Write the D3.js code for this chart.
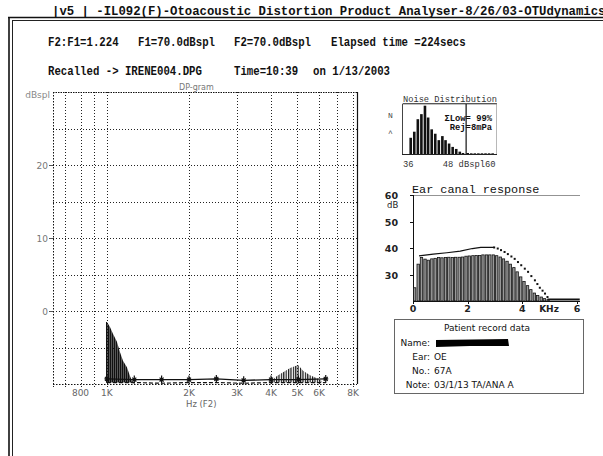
<!DOCTYPE html>
<html><head><meta charset="utf-8">
<script src="https://cdn.jsdelivr.net/npm/d3@7"></script>
<style>body{margin:0;background:#fff} svg{display:block}</style>
</head><body><svg id="c" width="603" height="456"></svg>
<script>
// ---------- header texts ----------
const titleText = "|v5 | -IL092(F)-Otoacoustic Distortion Product Analyser-8/26/03-OTUdynamics";
const headerLine1 = ["F2:F1=1.224", "F1=70.0dBspl", "F2=70.0dBspl", "Elapsed time =224secs"];
const headerLine2 = ["Recalled -> IRENE004.DPG", "Time=10:39", "on 1/13/2003"];

// ---------- DP-gram ----------
const dpTitle = "DP-gram";
const dpYUnit = "dBspl";
const dpXTitle = "Hz (F2)";
const dpTickFreqs = [800, 1000, 2000, 3000, 4000, 5000, 6000, 8000];
const dpTickLabels = ["800", "1K", "2K", "3K", "4K", "5K", "6K", "8K"];
const dpGridFreqs = [700, 800, 900, 1000, 2000, 3000, 4000, 5000, 6000, 7000, 8000];
const dpYTicks = [0, 10, 20];
const dpYGrid = [-5, 0, 5, 10, 15, 20, 25];
// DP response near 1 kHz
const dpLowFreq = [992, 1000, 1026, 1052, 1088, 1116, 1145, 1184, 1215, 1235, 1245];
const dpLowLevel = [-1.5, -1.5, -2.2, -3.1, -4.2, -5.6, -6.8, -7.7, -8.9, -9.6, -9.8];
// DP response near 5 kHz
const dpHighFreq = [3966, 4207, 4430, 4700, 5029, 5243, 5560, 5898, 6146];
const dpHighLevel = [-9.7, -8.9, -8.4, -7.8, -7.4, -8.2, -8.8, -9.2, -9.6];
// noise floor (1/3 octave points)
const nfFreq = [1000, 1260, 1587, 2000, 2520, 3175, 4000, 5040, 6350];
const nfLevel = [-9.3, -9.4, -9.4, -9.4, -9.3, -9.5, -9.4, -9.4, -9.3];
const nfLevel2 = [-9.8, -9.8, -9.9, -9.8, -9.8, -9.9, -9.8, -9.8, -9.8];

// ---------- Noise distribution ----------
const noiseTitle = "Noise Distribution";
const noiseBins = [38.2, 39.1, 40.0, 40.9, 41.8, 42.6, 43.5, 44.4, 45.3, 46.2, 47.0, 47.9, 48.8, 49.7, 50.6, 51.4,
                   52.6, 53.5, 54.4, 55.3, 56.2, 57.1, 58.0, 58.9];
const noiseCounts = [48, 66, 103, 118, 143, 108, 73, 60, 41, 53, 41, 31, 21, 15, 7, 3,
                     3, 2, 2, 2, 2, 2, 2, 2];
const noiseReject = 52.2;
const noiseLabels = ["36", "48 dBspl60"];
const noiseStats = ["\u03A3Low= 99%", "Rej=8mPa"];

// ---------- Ear canal response ----------
const ecTitle = "Ear canal response";
const ecFreq = [0.06, 0.19, 0.31, 0.44, 0.56, 0.69, 0.81, 0.94, 1.06, 1.19, 1.31, 1.44, 1.56, 1.69, 1.81, 1.94,
                2.06, 2.19, 2.31, 2.44, 2.56, 2.69, 2.81, 2.94, 3.06, 3.19, 3.31, 3.44, 3.56, 3.69, 3.81, 3.94,
                4.06, 4.19, 4.31, 4.44, 4.56, 4.69, 4.81, 4.94];
const ecLevel = [25.0, 33.9, 36.4, 35.8, 35.4, 35.9, 36.1, 36.4, 36.3, 36.4, 36.5, 36.4, 36.5, 36.5, 36.6, 36.9,
                 37.0, 37.1, 37.2, 37.2, 37.4, 37.4, 37.4, 37.4, 37.1, 36.6, 35.9, 35.0, 33.9, 32.6, 31.0, 29.1,
                 27.4, 25.8, 24.3, 23.0, 22.1, 21.5, 20.9, 20.5];
const ecRefFreq = [0.22, 0.74, 1.24, 1.73, 2.17, 2.48, 2.97];
const ecRefLevel = [37.0, 37.7, 38.2, 38.8, 39.8, 40.2, 40.2];
const ecRefTailFreq = [2.97, 3.10, 3.22, 3.35, 3.47, 3.60, 3.72, 3.84, 3.96, 4.09, 4.21, 4.33, 4.46, 4.55, 4.64, 4.74, 4.83, 4.92];
const ecRefTailLevel = [40.2, 39.8, 39.2, 38.5, 37.7, 36.8, 35.9, 34.7, 33.5, 32.2, 31.0, 29.4, 27.8, 26.4, 25.0, 23.9, 22.8, 21.5];
const ecFloorFreq = [4.92, 6.1];
const ecFloorLevel = [20.6, 20.6];
const ecXTicks = [0, 2, 4, 6];
const ecYTicks = [30, 40, 50, 60];

// ---------- Patient record ----------
const patientTitle = "Patient record data";
const patientLabels = ["Name:", "Ear:", "No.:", "Note:"];
const patientValues = ["", "OE", "67A", "03/1/13 TA/ANA A"];

// =======================================================
const svg = d3.select("#c");
const mono = "'Liberation Mono', 'DejaVu Sans Mono', monospace";
const sans = "'DejaVu Sans', 'Liberation Sans', sans-serif";

const defs = svg.append("defs");
defs.append("pattern").attr("id", "dense").attr("patternUnits", "userSpaceOnUse")
  .attr("width", 2).attr("height", 2)
  .append("rect").attr("width", 1.7).attr("height", 2).attr("fill", "#111");
defs.append("pattern").attr("id", "stripe").attr("patternUnits", "userSpaceOnUse")
  .attr("width", 2.4).attr("height", 3)
  .append("rect").attr("width", 1.2).attr("height", 3).attr("fill", "#111");

// outer frame
svg.append("line").attr("x1", 8).attr("x2", 603).attr("y1", 17.5).attr("y2", 17.5).attr("stroke", "#111").attr("stroke-width", 1.6);
svg.append("line").attr("x1", 12).attr("x2", 603).attr("y1", 20.5).attr("y2", 20.5).attr("stroke", "#222").attr("stroke-width", 1);
svg.append("line").attr("x1", 9).attr("x2", 9).attr("y1", 17).attr("y2", 456).attr("stroke", "#111").attr("stroke-width", 1.6);
svg.append("line").attr("x1", 12.5).attr("x2", 12.5).attr("y1", 20).attr("y2", 456).attr("stroke", "#222").attr("stroke-width", 1);

// header
svg.append("text").attr("x", 52).attr("y", 15).attr("font-family", mono).attr("font-weight", "bold")
  .attr("font-size", 12.3).attr("fill", "#111").text(titleText);
const h1x = [48, 138, 234, 331];
headerLine1.forEach((t, i) => svg.append("text").attr("transform", `translate(${h1x[i]},46) scale(1,1.15)`)
  .attr("font-family", mono).attr("font-weight", "bold").attr("font-size", 10.7).attr("fill", "#111").text(t));
const h2x = [48, 234, 313];
headerLine2.forEach((t, i) => svg.append("text").attr("transform", `translate(${h2x[i]},75) scale(1,1.15)`)
  .attr("font-family", mono).attr("font-weight", "bold").attr("font-size", 10.7).attr("fill", "#111").text(t));

// ---------- DP-gram ----------
const dpX = d3.scaleLog().domain([634, 8270]).range([53, 357]);
const dpY = d3.scaleLinear().domain([-10, 30]).range([384, 92]);
const dp = svg.append("g");
const dotted = sel => sel.attr("stroke", "#222").attr("stroke-width", 1).attr("stroke-dasharray", "1 2");

dp.selectAll("line.vg").data(dpGridFreqs).join("line").attr("class", "vg")
  .attr("x1", d => Math.round(dpX(d)) + 0.5).attr("x2", d => Math.round(dpX(d)) + 0.5)
  .attr("y1", dpY(30)).attr("y2", dpY(-10) + 4).call(dotted);
dp.selectAll("line.hg").data(dpYGrid).join("line").attr("class", "hg")
  .attr("x1", 53).attr("x2", 357)
  .attr("y1", d => Math.round(dpY(d)) + 0.5).attr("y2", d => Math.round(dpY(d)) + 0.5).call(dotted);
// frame
dp.append("line").attr("x1", 53).attr("x2", 357).attr("y1", Math.round(dpY(30)) + 0.5).attr("y2", Math.round(dpY(30)) + 0.5)
  .attr("stroke", "#111").attr("stroke-dasharray", "1.5 1");
dp.append("line").attr("x1", 53).attr("x2", 357).attr("y1", Math.round(dpY(-10)) + 0.5).attr("y2", Math.round(dpY(-10)) + 0.5)
  .attr("stroke", "#111").attr("stroke-dasharray", "1.5 1.5");
dp.append("line").attr("x1", 53.5).attr("x2", 53.5).attr("y1", dpY(30)).attr("y2", dpY(-10) + 3)
  .attr("stroke", "#111").attr("stroke-dasharray", "1.5 1.5");
dp.append("line").attr("x1", 357.5).attr("x2", 357.5).attr("y1", dpY(30)).attr("y2", dpY(-10))
  .attr("stroke", "#111").attr("stroke-width", 1.2);

// y labels
dp.selectAll("text.yl").data(dpYTicks).join("text").attr("class", "yl")
  .attr("x", 48).attr("y", d => dpY(d) + 3.5).attr("text-anchor", "end")
  .attr("font-family", sans).attr("font-size", 9).attr("fill", "#777").text(d => d);
dp.selectAll("line.yt").data(dpYTicks).join("line").attr("class", "yt")
  .attr("x1", 49).attr("x2", 53).attr("y1", d => Math.round(dpY(d)) + 0.5).attr("y2", d => Math.round(dpY(d)) + 0.5)
  .attr("stroke", "#555");
dp.append("text").attr("x", 50).attr("y", dpY(30) + 6).attr("text-anchor", "end")
  .attr("font-family", sans).attr("font-size", 9).attr("fill", "#888").text(dpYUnit);
dp.append("text").attr("x", 179).attr("y", 90).attr("font-family", sans).attr("font-size", 8).attr("fill", "#777").text(dpTitle);
// x labels
dp.selectAll("text.xl").data(dpTickFreqs).join("text").attr("class", "xl")
  .attr("x", d => dpX(d)).attr("y", 396).attr("text-anchor", "middle")
  .attr("font-family", sans).attr("font-size", 9).attr("fill", "#666")
  .text((d, i) => dpTickLabels[i]);
dp.append("text").attr("x", 186).attr("y", 407).attr("font-family", sans).attr("font-size", 8.5)
  .attr("fill", "#666").text(dpXTitle);

// DP data areas
const lowData = dpLowFreq.map((f, i) => ({f, v: dpLowLevel[i]}));
const highData = dpHighFreq.map((f, i) => ({f, v: dpHighLevel[i]}));
const dpArea = d3.area().x(d => dpX(d.f)).y0(dpY(-9.8)).y1(d => dpY(d.v));
dp.append("path").datum(lowData).attr("d", dpArea).attr("fill", "url(#dense)");
dp.append("path").datum(highData).attr("d", dpArea).attr("fill", "url(#stripe)");

// noise floor
const nf = nfFreq.map((f, i) => ({f, v: nfLevel[i], v2: nfLevel2[i]}));
dp.append("path").datum(nf).attr("d", d3.line().x(d => dpX(d.f)).y(d => dpY(d.v)))
  .attr("fill", "none").attr("stroke", "#111").attr("stroke-width", 1.3);
dp.append("path").datum(nf).attr("d", d3.line().x(d => dpX(d.f)).y(d => dpY(d.v2)))
  .attr("fill", "none").attr("stroke", "#111").attr("stroke-width", 1.2).attr("stroke-dasharray", "4 2");
dp.selectAll("path.mk").data(nf).join("path").attr("class", "mk")
  .attr("d", d => { const x = dpX(d.f), y = dpY(d.v); return `M${x},${y - 4}V${y + 4}M${x - 2.5},${y}H${x + 2.5}M${x - 2},${y - 2}L${x + 2},${y + 2}M${x + 2},${y - 2}L${x - 2},${y + 2}`; })
  .attr("stroke", "#111").attr("stroke-width", 1.2).attr("fill", "none");

// ---------- Noise distribution ----------
const nX = d3.scaleLinear().domain([36, 60]).range([402, 497]);
const nY = d3.scaleLinear().domain([0, 148]).range([154, 104]);
const nd = svg.append("g");
nd.append("text").attr("x", 403).attr("y", 102).attr("font-family", mono).attr("font-size", 8.7)
  .attr("fill", "#333").attr("text-decoration", "underline").text(noiseTitle);
nd.append("path").attr("d", `M${nX(36)},${nY(148)}H${nX(60)}`).attr("stroke", "#666").attr("stroke-width", 0.8);
nd.append("path").attr("d", `M${nX(36) + 0.5},${nY(148)}V${nY(0)}`).attr("stroke", "#444");
nd.append("path").attr("d", `M${nX(60) - 0.5},${nY(148)}V${nY(0)}`).attr("stroke", "#888").attr("stroke-width", 0.6);
nd.append("path").attr("d", `M${nX(36)},${nY(0) + 0.5}H${nX(60)}`).attr("stroke", "#222");
nd.selectAll("rect").data(noiseBins).join("rect")
  .attr("x", d => nX(d) - 1.3).attr("width", 2.6)
  .attr("y", (d, i) => nY(noiseCounts[i])).attr("height", (d, i) => nY(0) - nY(noiseCounts[i]))
  .attr("fill", "#111");
nd.append("line").attr("x1", nX(noiseReject)).attr("x2", nX(noiseReject)).attr("y1", nY(148)).attr("y2", nY(0))
  .attr("stroke", "#111").attr("stroke-width", 1.2);
nd.append("text").attr("x", 492).attr("y", 121).attr("text-anchor", "end").attr("font-family", mono)
  .attr("font-weight", "bold").attr("font-size", 8.8).attr("fill", "#111").text(noiseStats[0]);
nd.append("text").attr("x", 492).attr("y", 130).attr("text-anchor", "end").attr("font-family", mono)
  .attr("font-weight", "bold").attr("font-size", 8.8).attr("fill", "#111").text(noiseStats[1]);
nd.append("text").attr("x", 388).attr("y", 118).attr("font-family", mono).attr("font-size", 8).attr("fill", "#444").text("N");
nd.append("text").attr("x", 388).attr("y", 136).attr("font-family", mono).attr("font-size", 8).attr("fill", "#444").text("^");
nd.append("text").attr("x", nX(36) + 1).attr("y", 167).attr("font-family", mono).attr("font-size", 8.8).attr("fill", "#333").text(noiseLabels[0]);
nd.append("text").attr("x", nX(46.3)).attr("y", 167).attr("font-family", mono).attr("font-size", 8.8).attr("fill", "#333").text(noiseLabels[1]);

// ---------- Ear canal response ----------
const eX = d3.scaleLinear().domain([0, 6]).range([413, 577]);
const eY = d3.scaleLinear().domain([20, 60]).range([301, 195]);
const ec = svg.append("g");
ec.append("text").attr("x", 412).attr("y", 193).attr("font-family", mono).attr("font-size", 11.8)
  .attr("fill", "#111").text(ecTitle);
ec.append("path").attr("d", `M${eX(0)},${Math.round(eY(60)) + 0.5}H${580}`).attr("stroke", "#777").attr("stroke-width", 0.8);
ec.append("path").attr("d", `M${eX(0) + 0.5},${eY(60)}V${eY(20)}`).attr("stroke", "#111");
ec.append("path").attr("d", `M${eX(0)},${Math.round(eY(20)) + 0.5}H${580}`).attr("stroke", "#111");
ec.selectAll("line.ytk").data(ecYTicks).join("line").attr("class", "ytk")
  .attr("x1", eX(0) - 3).attr("x2", eX(0)).attr("y1", d => Math.round(eY(d)) + 0.5).attr("y2", d => Math.round(eY(d)) + 0.5)
  .attr("stroke", "#111");
ec.selectAll("text.ytl").data(ecYTicks).join("text").attr("class", "ytl")
  .attr("x", 398).attr("y", d => eY(d) + 4).attr("text-anchor", "end")
  .attr("font-family", sans).attr("font-weight", "bold").attr("font-size", 9.5).attr("fill", "#222").text(d => d);
ec.append("text").attr("x", 387).attr("y", 208).attr("font-family", sans).attr("font-size", 8.5).attr("fill", "#222").text("dB");
ec.selectAll("line.xtk").data(ecXTicks).join("line").attr("class", "xtk")
  .attr("x1", d => Math.round(eX(d)) + 0.5).attr("x2", d => Math.round(eX(d)) + 0.5).attr("y1", eY(20)).attr("y2", eY(20) + 3)
  .attr("stroke", "#111");
ec.selectAll("text.xtl").data(ecXTicks).join("text").attr("class", "xtl")
  .attr("x", d => eX(d)).attr("y", 312).attr("text-anchor", "middle")
  .attr("font-family", sans).attr("font-weight", "bold").attr("font-size", 9.5).attr("fill", "#222").text(d => d);
ec.append("text").attr("x", 549).attr("y", 312).attr("text-anchor", "middle")
  .attr("font-family", sans).attr("font-weight", "bold").attr("font-size", 9).attr("fill", "#222").text("KHz");

ec.selectAll("rect.bar").data(ecFreq).join("rect").attr("class", "bar")
  .attr("x", d => eX(d) - 1.2).attr("width", 2.4)
  .attr("y", (d, i) => eY(ecLevel[i])).attr("height", (d, i) => eY(20) - eY(ecLevel[i]))
  .attr("fill", "#999").attr("stroke", "#111").attr("stroke-width", 0.8);
const refLine = d3.line().x(d => eX(d[0])).y(d => eY(d[1]));
ec.append("path").datum(ecRefFreq.map((f, i) => [f, ecRefLevel[i]])).attr("d", refLine)
  .attr("fill", "none").attr("stroke", "#111").attr("stroke-width", 1.2);
ec.selectAll("rect.dot").data(ecRefTailFreq).join("rect").attr("class", "dot")
  .attr("x", d => eX(d) - 1).attr("y", (d, i) => eY(ecRefTailLevel[i]) - 1).attr("width", 2).attr("height", 2)
  .attr("fill", "#111");
ec.append("path").datum(ecFloorFreq.map((f, i) => [f, ecFloorLevel[i]])).attr("d", refLine)
  .attr("fill", "none").attr("stroke", "#111").attr("stroke-width", 2);

// ---------- Patient record ----------
const pr = svg.append("g");
pr.append("rect").attr("x", 394.5).attr("y", 319.5).attr("width", 189).attr("height", 74)
  .attr("fill", "none").attr("stroke", "#666");
pr.append("text").attr("x", 487).attr("y", 331).attr("text-anchor", "middle")
  .attr("font-family", sans).attr("font-size", 9).attr("fill", "#111").text(patientTitle);
const rowY = [346, 360, 374, 388];
patientLabels.forEach((t, i) => {
  pr.append("text").attr("x", 430).attr("y", rowY[i]).attr("text-anchor", "end")
    .attr("font-family", sans).attr("font-size", 9).attr("fill", "#111").text(t);
  pr.append("text").attr("x", 434).attr("y", rowY[i])
    .attr("font-family", sans).attr("font-size", 9).attr("fill", "#111").text(patientValues[i]);
});
pr.append("path").attr("d", "M436,340 L508,339 L509,346 L470,346 L436,347 Z").attr("fill", "#000");
</script>
</body></html>
